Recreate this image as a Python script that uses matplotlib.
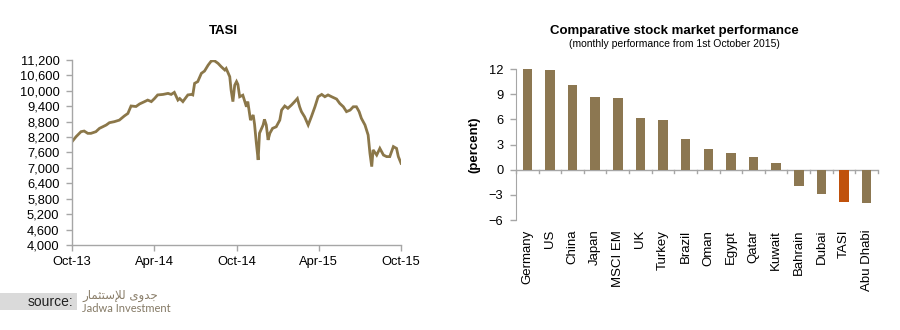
import matplotlib
matplotlib.use("Agg")
import matplotlib.pyplot as plt
import matplotlib.dates as mdates
import numpy as np
import pandas as pd
from matplotlib.patches import Rectangle

plt.rcParams['font.family'] = ['Liberation Sans', 'DejaVu Sans']

# TASI index level
tasi_dates = [
    "2013-10-01", "2013-10-10", "2013-10-21", "2013-10-28", "2013-11-05", "2013-11-12",
    "2013-11-23", "2013-12-01", "2013-12-08", "2013-12-16", "2013-12-23", "2014-01-03",
    "2014-01-14", "2014-01-25", "2014-02-02", "2014-02-09", "2014-02-20", "2014-02-28",
    "2014-03-11", "2014-03-18", "2014-03-26", "2014-04-02", "2014-04-09", "2014-04-21",
    "2014-05-02", "2014-05-09", "2014-05-16", "2014-05-24", "2014-05-28", "2014-06-04",
    "2014-06-15", "2014-06-23", "2014-06-26", "2014-06-30", "2014-07-07", "2014-07-15",
    "2014-07-22", "2014-07-30", "2014-08-06", "2014-08-13", "2014-08-21", "2014-08-28",
    "2014-09-05", "2014-09-08", "2014-09-16", "2014-09-19", "2014-09-23", "2014-09-27",
    "2014-10-01", "2014-10-04", "2014-10-08", "2014-10-15", "2014-10-23", "2014-10-26",
    "2014-11-01", "2014-11-07", "2014-11-10", "2014-11-14", "2014-11-18", "2014-11-21",
    "2014-11-29", "2014-12-02", "2014-12-06", "2014-12-10", "2014-12-14", "2014-12-20",
    "2014-12-28", "2015-01-05", "2015-01-09", "2015-01-16", "2015-01-23", "2015-01-31",
    "2015-02-07", "2015-02-13", "2015-02-18", "2015-02-22", "2015-03-01", "2015-03-09",
    "2015-03-16", "2015-03-24", "2015-03-31", "2015-04-08", "2015-04-15", "2015-04-22",
    "2015-04-30", "2015-05-11", "2015-05-18", "2015-05-26", "2015-06-02", "2015-06-10",
    "2015-06-17", "2015-06-24", "2015-06-30", "2015-07-05", "2015-07-13", "2015-07-20",
    "2015-07-24", "2015-07-28", "2015-07-31", "2015-08-08", "2015-08-15", "2015-08-23",
    "2015-08-30", "2015-09-06", "2015-09-14", "2015-09-21", "2015-09-25", "2015-10-01",
]
tasi_values = [
    8020, 8215, 8410, 8435, 8345, 8345,
    8410, 8540, 8600, 8670, 8760, 8800,
    8860, 9020, 9120, 9410, 9390, 9490,
    9580, 9640, 9580, 9700, 9840, 9860,
    9900, 9860, 9940, 9640, 9700, 9580,
    9840, 9860, 9840, 10290, 10360, 10680,
    10770, 11000, 11160, 11170, 11070, 10940,
    10810, 10870, 10550, 10030, 9580, 10220,
    10360, 10250, 9770, 9830, 9380, 9580,
    8860, 9060, 8700, 7960, 7310, 8350,
    8670, 8890, 8670, 8090, 8350, 8540,
    8600, 8860, 9250, 9410, 9320, 9450,
    9580, 9700, 9380, 9190, 8990, 8670,
    8990, 9380, 9770, 9860, 9770, 9840,
    9770, 9680, 9510, 9380, 9190, 9250,
    9380, 9380, 9190, 8930, 8670, 8280,
    7570, 7050, 7700, 7500, 7760, 7500,
    7440, 7440, 7830, 7760, 7440, 7180,
]

# Monthly performance from 1st October 2015 (percent)
markets = ["Germany", "US", "China", "Japan", "MSCI EM", "UK", "Turkey", "Brazil",
           "Oman", "Egypt", "Qatar", "Kuwait", "Bahrain", "Dubai", "TASI", "Abu Dhabi"]
performance = [12.1, 11.9, 10.05, 8.7, 8.6, 6.2, 5.9, 3.7,
               2.5, 1.95, 1.55, 0.75, -2.0, -2.95, -3.85, -4.0]
highlight = "TASI"

brown = "#8B7749"
bar_brown = "#8C7751"
orange = "#C0510C"
spine_gray = "#A6A6A6"

fig = plt.figure(figsize=(9, 3.3), dpi=100)

# ---- TASI line chart ----
ax1 = fig.add_axes([0.08, 0.2576, 0.3656, 0.5606])
ax1.plot(pd.to_datetime(tasi_dates), tasi_values, color=brown, lw=2.0,
         solid_joinstyle="miter")
ax1.set_xlim(pd.Timestamp("2013-10-01"), pd.Timestamp("2015-10-01"))
ax1.set_ylim(4000, 11200)
ax1.set_yticks(np.arange(4000, 11201, 600))
ax1.yaxis.set_major_formatter(matplotlib.ticker.FuncFormatter(lambda v, p: f"{int(v):,}"))
ax1.set_xticks(pd.to_datetime(["2013-10-01", "2014-04-01", "2014-10-01",
                               "2015-04-01", "2015-10-01"]))
ax1.xaxis.set_major_formatter(mdates.DateFormatter("%b-%y"))
for s in ["top", "right"]:
    ax1.spines[s].set_visible(False)
for s in ["left", "bottom"]:
    ax1.spines[s].set_color(spine_gray)
    ax1.spines[s].set_linewidth(1.0)
ax1.tick_params(axis="both", colors=spine_gray, labelcolor="black", labelsize=9.3,
                length=4, width=1.0)
ax1.tick_params(axis="y", pad=5)
ax1.tick_params(axis="x", pad=4)
fig.text(0.248, 0.905, "TASI", ha="center", va="center", fontsize=9.5,
         fontweight="bold")

# ---- comparative bar chart ----
ax2 = fig.add_axes([0.5733, 0.3333, 0.4022, 0.4576])
x = np.arange(len(markets))
colors = [orange if m == highlight else bar_brown for m in markets]
ax2.bar(x, performance, width=0.42, color=colors, zorder=2)
ax2.set_xlim(-0.5, len(markets) - 0.5)
ax2.set_ylim(-6, 12)
ax2.set_yticks(np.arange(-6, 13, 3))
ax2.axhline(0, color=spine_gray, lw=1.0, zorder=1)
# boundary ticks hanging from the zero line
for b in np.arange(-0.5, len(markets), 1.0):
    ax2.plot([b, b], [0, -0.4], color=spine_gray, lw=1.0, zorder=1, clip_on=False)
ax2.set_xticks(x)
ax2.set_xticklabels(markets, rotation=90, fontsize=9.5)
ax2.tick_params(axis="x", length=0, pad=7)
for s in ["top", "right", "bottom"]:
    ax2.spines[s].set_visible(False)
ax2.spines["left"].set_color(spine_gray)
ax2.tick_params(axis="y", colors=spine_gray, labelcolor="black", labelsize=9.3,
                length=4, width=1.0, pad=5)
ax2.set_ylabel("(percent)", fontsize=9.5, fontweight="bold", labelpad=6)
fig.text(0.749, 0.905, "Comparative stock market performance", ha="center",
         va="center", fontsize=9.5, fontweight="bold")
fig.text(0.749, 0.866, "(monthly performance from 1st October 2015)", ha="center",
         va="center", fontsize=7.5)

# ---- source footer ----
fig.patches.append(Rectangle((0, 1 - 310 / 330), 77 / 900, 17 / 330,
                             transform=fig.transFigure, facecolor="#DADADA",
                             edgecolor="none"))
fig.text(73 / 900, 1 - 302 / 330, "source:", ha="right", va="center",
         fontsize=10, color="#222222")
arabic = "\uFEAD\uFE8E\uFEE4\uFE9C\uFE98\uFEB3\uFEFA\uFEDF \uFEEF\uFEED\uFEAA\uFE9F"
fig.text(82 / 900, 1 - 296 / 330, arabic, ha="left", va="center", fontsize=8.5,
         color="#8A7E6A", family=["DejaVu Sans"])
fig.text(82 / 900, 1 - 309 / 330, "Jadwa Investment", ha="left", va="center",
         fontsize=8, color="#857A66", family=["Lato", "DejaVu Sans"])

fig.savefig("out.png", dpi=100)
